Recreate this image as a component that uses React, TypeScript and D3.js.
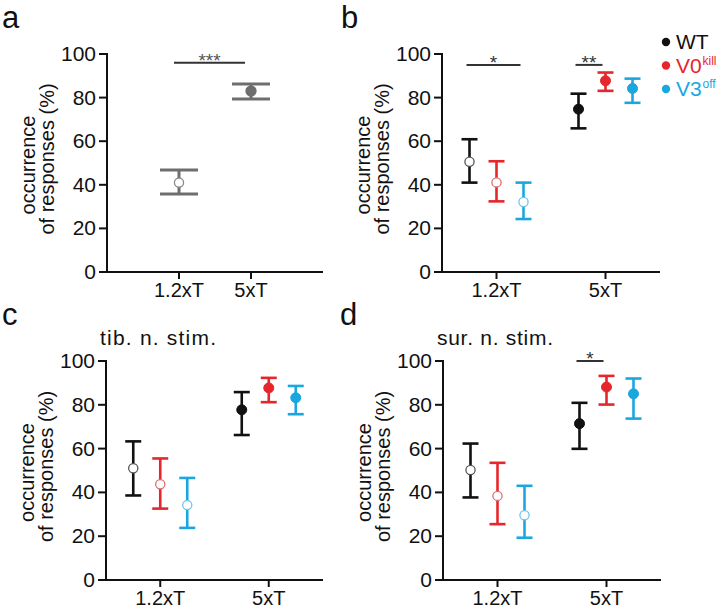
import React from "react";
import * as d3 from "d3";

const stimLevels = ["1.2xT", "5xT"];
const genotypes = ["WT", "V0", "V3"];
const yTicks = [0, 20, 40, 60, 80, 100];

// panel a (pooled)
const pooledMean = [41.0, 83.0];
const pooledLow = [35.8, 79.4];
const pooledHigh = [46.8, 86.2];

// panel b (all) — rows = stim level, cols = genotype
const bMean = [[50.6, 41.1, 32.1], [74.7, 87.7, 84.2]];
const bLow = [[41.0, 32.4, 24.3], [65.9, 83.1, 77.6]];
const bHigh = [[60.9, 50.8, 41.0], [81.8, 91.5, 88.7]];

// panel c (tib. n. stim.)
const cMean = [[51.0, 43.7, 34.2], [77.7, 87.7, 83.2]];
const cLow = [[38.6, 32.6, 23.8], [66.2, 81.2, 75.7]];
const cHigh = [[63.3, 55.5, 46.6], [85.8, 92.3, 88.6]];

// panel d (sur. n. stim.)
const dMean = [[50.2, 38.4, 29.6], [71.4, 88.1, 85.0]];
const dLow = [[37.7, 25.5, 19.3], [59.9, 80.1, 73.7]];
const dHigh = [[62.3, 53.5, 43.0], [80.9, 93.2, 92.0]];

// significance: [stim index, from genotype, to genotype, y value, label]
const bSig: [number, number, number, number, string][] = [
  [0, 0, 2, 95, "*"],
  [1, 0, 1, 95, "**"],
];
const dSig: [number, number, number, number, string][] = [[1, 0, 1, 100, "*"]];

const legendNames = ["WT", "V0", "V3"];
const legendSup = ["", "kill", "off"];

const colors = ["#111111", "#e5262b", "#1aa7df"];
const openStroke = ["#555555", "#d9706f", "#6cc6ea"];
const gray = "#6e6e6e";
const FONT = "'Liberation Sans', Arial, Helvetica, sans-serif";

type PanelProps = {
  x0: number;
  x1: number;
  yTop: number;
  yBot: number;
  padding: number;
  children: (x: d3.ScalePoint<string>, y: d3.ScaleLinear<number, number>) => React.ReactNode;
};

function Axes({ x0, x1, yTop, yBot, padding, children }: PanelProps) {
  const y = d3.scaleLinear().domain([0, 100]).range([yBot, yTop]);
  const x = d3.scalePoint<string>().domain(stimLevels).range([x0, x1]).padding(padding);
  const midY = (yTop + yBot) / 2;
  return (
    <g>
      <text
        transform={`translate(${x0 - 72},${midY + 2}) rotate(-90)`}
        textAnchor="middle"
        fontSize={20}
        fontFamily={FONT}
        fill="#111"
      >
        occurrence
      </text>
      <text
        transform={`translate(${x0 - 53},${midY - 4}) rotate(-90)`}
        textAnchor="middle"
        fontSize={20}
        fontFamily={FONT}
        fill="#111"
      >
        of responses (%)
      </text>
      {yTicks.map((t) => (
        <g key={t}>
          <line x1={x0 - 8} x2={x0} y1={y(t)} y2={y(t)} stroke="#111" strokeWidth={2} />
          <text
            x={x0 - 11}
            y={y(t) + 7}
            textAnchor="end"
            fontSize={21}
            fontFamily={FONT}
            fill="#111"
          >
            {t}
          </text>
        </g>
      ))}
      <line x1={x0} x2={x0} y1={yTop - 1} y2={yBot} stroke="#111" strokeWidth={2} />
      <line x1={x0 - 1} x2={x1} y1={yBot} y2={yBot} stroke="#111" strokeWidth={2} />
      {stimLevels.map((s) => (
        <g key={s}>
          <line x1={x(s)!} x2={x(s)!} y1={yBot} y2={yBot + 7} stroke="#111" strokeWidth={2} />
          <text
            x={x(s)!}
            y={yBot + 25}
            textAnchor="middle"
            fontSize={20}
            fontFamily={FONT}
            fill="#111"
          >
            {s}
          </text>
        </g>
      ))}
      {children(x, y)}
    </g>
  );
}

function GroupPanel(props: {
  x0: number;
  x1: number;
  yTop: number;
  yBot: number;
  mean: number[][];
  low: number[][];
  high: number[][];
  sig: [number, number, number, number, string][];
}) {
  const { mean, low, high, sig } = props;
  const off = d3.scalePoint<string>().domain(genotypes).range([-27, 27]);
  return (
    <Axes x0={props.x0} x1={props.x1} yTop={props.yTop} yBot={props.yBot} padding={0.5}>
      {(x, y) => (
        <g>
          {sig.map(([si, g0, g1, v, lab], i) => {
            const cx = x(stimLevels[si])!;
            const xa = cx + off(genotypes[g0])! - 3;
            const xb = cx + off(genotypes[g1])! - 3;
            return (
              <g key={i}>
                <line x1={xa} x2={xb} y1={y(v)} y2={y(v)} stroke="#333" strokeWidth={2} />
                <text
                  x={(xa + xb) / 2}
                  y={y(v) + 4}
                  textAnchor="middle"
                  fontSize={19}
                  fontFamily={FONT}
                  fill="#333"
                >
                  {lab}
                </text>
              </g>
            );
          })}
          {stimLevels.map((s, si) =>
            genotypes.map((g, gi) => {
              const cx = x(s)! + off(g)!;
              const filled = si === 1;
              return (
                <g key={s + g}>
                  <line x1={cx} x2={cx} y1={y(low[si][gi])} y2={y(high[si][gi])} stroke={colors[gi]} strokeWidth={2.6} />
                  <line x1={cx - 8} x2={cx + 8} y1={y(low[si][gi])} y2={y(low[si][gi])} stroke={colors[gi]} strokeWidth={2.6} />
                  <line x1={cx - 8} x2={cx + 8} y1={y(high[si][gi])} y2={y(high[si][gi])} stroke={colors[gi]} strokeWidth={2.6} />
                  <circle
                    cx={cx}
                    cy={y(mean[si][gi])}
                    r={filled ? 5 : 4.6}
                    fill={filled ? colors[gi] : "#fff"}
                    stroke={filled ? colors[gi] : openStroke[gi]}
                    strokeWidth={filled ? 1 : 1.3}
                  />
                </g>
              );
            })
          )}
        </g>
      )}
    </Axes>
  );
}

export default function App() {
  return (
    <svg
      width={720}
      height={612}
      style={{ position: "absolute", left: 0, top: 0, background: "#fff" }}
      fontFamily={FONT}
    >
      <rect width={720} height={612} fill="#fff" />
      <text x={2} y={28} fontSize={31} fill="#111">a</text>
      <text x={341} y={28} fontSize={31} fill="#111">b</text>
      <text x={2} y={325} fontSize={31} fill="#111">c</text>
      <text x={340} y={325} fontSize={31} fill="#111">d</text>

      <Axes x0={107} x1={323} yTop={54} yBot={272} padding={1}>
        {(x, y) => (
          <g>
            {(() => {
              const xa = x(stimLevels[0])! - 5;
              const xb = x(stimLevels[1])! - 6;
              return (
                <g>
                  <line x1={xa} x2={xb} y1={y(96)} y2={y(96)} stroke="#333" strokeWidth={2} />
                  <text x={(xa + xb) / 2} y={y(96) + 4} textAnchor="middle" fontSize={19} fill="#555">***</text>
                </g>
              );
            })()}
            {stimLevels.map((s, i) => {
              const cx = x(s)!;
              return (
                <g key={s}>
                  <line x1={cx} x2={cx} y1={y(pooledLow[i])} y2={y(pooledHigh[i])} stroke={gray} strokeWidth={3} />
                  <line x1={cx - 19} x2={cx + 19} y1={y(pooledLow[i])} y2={y(pooledLow[i])} stroke={gray} strokeWidth={3} />
                  <line x1={cx - 19} x2={cx + 19} y1={y(pooledHigh[i])} y2={y(pooledHigh[i])} stroke={gray} strokeWidth={3} />
                  <circle
                    cx={cx}
                    cy={y(pooledMean[i])}
                    r={i === 1 ? 5 : 4.6}
                    fill={i === 1 ? gray : "#fff"}
                    stroke={i === 1 ? gray : "#888"}
                    strokeWidth={1.3}
                  />
                </g>
              );
            })}
          </g>
        )}
      </Axes>

      <GroupPanel x0={442} x1={660} yTop={54} yBot={272} mean={bMean} low={bLow} high={bHigh} sig={bSig} />
      <GroupPanel x0={106} x1={323} yTop={361} yBot={580} mean={cMean} low={cLow} high={cHigh} sig={[]} />
      <GroupPanel x0={443} x1={661} yTop={361} yBot={580} mean={dMean} low={dLow} high={dHigh} sig={dSig} />

      <text x={100} y={345} fontSize={21} fill="#111" textLength={116} lengthAdjust="spacing">tib. n. stim.</text>
      <text x={437} y={345} fontSize={21} fill="#111" textLength={116} lengthAdjust="spacing">sur. n. stim.</text>

      {legendNames.map((n, i) => (
        <g key={n}>
          <circle cx={666} cy={42 + i * 23.5} r={4.2} fill={colors[i]} />
          <text x={676} y={49 + i * 23.5} fontSize={21} fill={colors[i]}>
            {n}
          </text>
          {legendSup[i] && (
            <text x={676 + 26.5} y={49 + i * 23.5 - 8} fontSize={12} fill={colors[i]}>
              {legendSup[i]}
            </text>
          )}
        </g>
      ))}
    </svg>
  );
}
